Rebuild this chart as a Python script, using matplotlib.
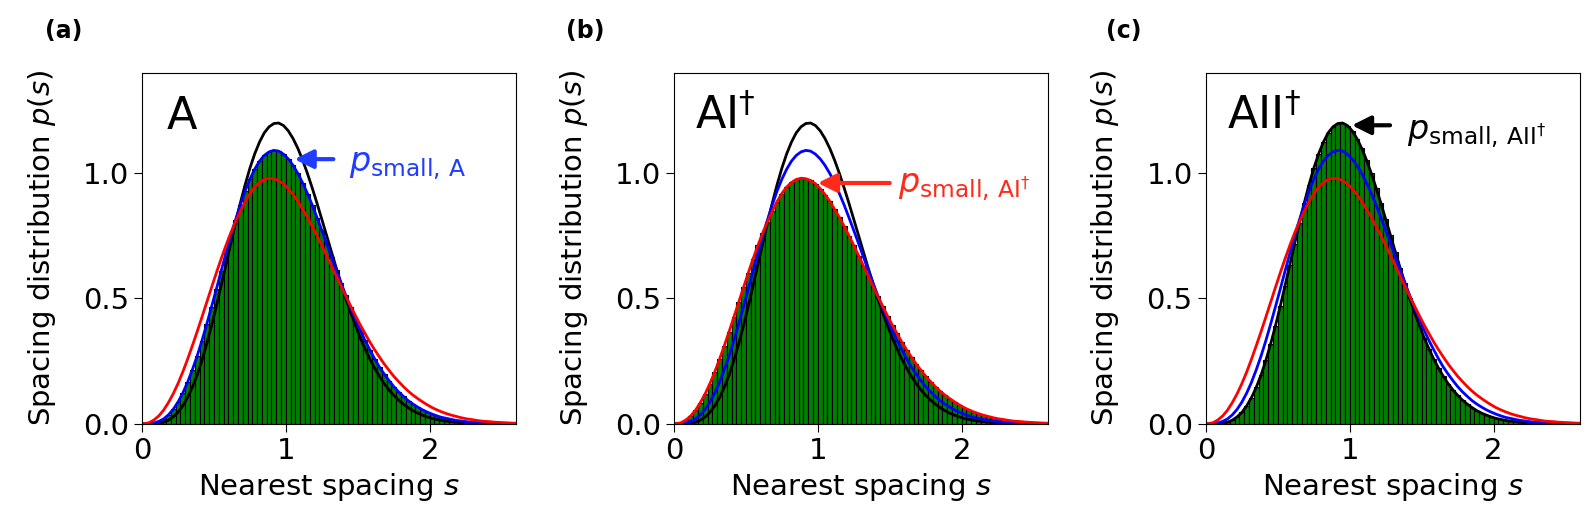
import numpy as np
import matplotlib.pyplot as plt

# nearest-spacing histograms, bin width 1/30, values at bin centres
bin_width = 1 / 30

# class A (blue), small-matrix result
p_A = [0.000, 0.001, 0.004, 0.010, 0.020, 0.036, 0.058, 0.087, 0.123,
       0.166, 0.216, 0.271, 0.332, 0.398, 0.467, 0.537, 0.609, 0.680,
       0.748, 0.813, 0.873, 0.928, 0.975, 1.015, 1.047, 1.070, 1.084,
       1.090, 1.087, 1.075, 1.056, 1.030, 0.998, 0.960, 0.918, 0.872,
       0.822, 0.771, 0.719, 0.666, 0.614, 0.562, 0.512, 0.464, 0.418,
       0.374, 0.333, 0.296, 0.260, 0.227, 0.199, 0.173, 0.149, 0.128,
       0.110, 0.093, 0.079, 0.067, 0.056, 0.047, 0.039, 0.032, 0.026,
       0.022, 0.018, 0.014, 0.012, 0.009, 0.007, 0.006, 0.005, 0.004,
       0.003, 0.002, 0.002, 0.001, 0.001, 0.001, 0.001]

# class AI-dagger (red)
p_AI = [0.001, 0.005, 0.016, 0.032, 0.055, 0.085, 0.120, 0.161, 0.207,
        0.258, 0.312, 0.368, 0.426, 0.485, 0.544, 0.602, 0.658, 0.711,
        0.761, 0.806, 0.847, 0.886, 0.918, 0.944, 0.962, 0.974, 0.979,
        0.977, 0.970, 0.957, 0.938, 0.914, 0.887, 0.855, 0.823, 0.787,
        0.750, 0.711, 0.671, 0.630, 0.590, 0.549, 0.509, 0.470, 0.432,
        0.395, 0.361, 0.327, 0.296, 0.267, 0.239, 0.214, 0.190, 0.169,
        0.149, 0.131, 0.115, 0.101, 0.088, 0.076, 0.065, 0.056, 0.048,
        0.041, 0.035, 0.030, 0.025, 0.021, 0.018, 0.015, 0.012, 0.010,
        0.009, 0.007, 0.006, 0.005, 0.004, 0.003, 0.003]

# class AII-dagger (black)
p_AII = [0.000, 0.000, 0.001, 0.003, 0.007, 0.015, 0.028, 0.046, 0.072,
         0.105, 0.146, 0.195, 0.253, 0.319, 0.391, 0.469, 0.551, 0.634,
         0.718, 0.801, 0.880, 0.953, 1.019, 1.076, 1.123, 1.160, 1.184,
         1.197, 1.199, 1.189, 1.168, 1.137, 1.098, 1.051, 0.998, 0.940,
         0.879, 0.815, 0.751, 0.686, 0.622, 0.561, 0.501, 0.445, 0.393,
         0.344, 0.300, 0.259, 0.223, 0.190, 0.161, 0.136, 0.114, 0.095,
         0.079, 0.065, 0.053, 0.043, 0.035, 0.028, 0.022, 0.018, 0.014,
         0.011, 0.009, 0.007, 0.005, 0.004, 0.003, 0.002, 0.002, 0.001,
         0.001, 0.001, 0.001, 0.000, 0.000, 0.000, 0.000]

s = (np.arange(len(p_A)) + 0.5) * bin_width

panel_names = [r'A', r'AI$^{\dagger}$', r'AII$^{\dagger}$']
panel_tags = ['(a)', '(b)', '(c)']
hists = [p_A, p_AI, p_AII]
ann_text = [r'$p_{\mathrm{small,\,A}}$', r'$p_{\mathrm{small,\,AI^{\dagger}}}$',
            r'$p_{\mathrm{small,\,AII^{\dagger}}}$']
ann_color = ['#1f3cff', '#ff2a1a', 'black']
ann_tip = [(1.06, 1.055), (1.0, 0.96), (1.015, 1.19)]
ann_pos = [(1.44, 1.005), (1.56, 0.923), (1.40, 1.136)]
ann_tail = [1.33, 1.50, 1.28]

fig = plt.figure(figsize=(15.96, 5.24), dpi=100)
lefts = [0.0890, 0.4223, 0.7556]
tag_x = [45, 566, 1106]

for i in range(3):
    ax = fig.add_axes([lefts[i], 0.191, 0.2343, 0.6705])
    ax.bar(s, hists[i], width=bin_width, color='green', edgecolor='black',
           linewidth=0.8)
    sc = np.concatenate([[0], s])
    ax.plot(sc, np.concatenate([[0], p_AII]), color='black', lw=2)
    ax.plot(sc, np.concatenate([[0], p_A]), color='blue', lw=2)
    ax.plot(sc, np.concatenate([[0], p_AI]), color='red', lw=2)
    ax.set_xlim(0, 2.6)
    ax.set_ylim(0, 1.4)
    ax.set_xticks([0, 1, 2])
    ax.set_yticks([0, 0.5, 1.0])
    ax.set_yticklabels(['0.0', '0.5', '1.0'])
    ax.tick_params(labelsize=21, length=6)
    ax.set_xlabel(r'Nearest spacing $s$', fontsize=21)
    ax.set_ylabel(r'Spacing distribution $p(s)$', fontsize=21, labelpad=18)
    ax.text(0.055 if i else 0.065, 0.84, panel_names[i], transform=ax.transAxes,
            fontsize=32, va='baseline')
    ax.annotate('', xy=ann_tip[i], xytext=(ann_tail[i], ann_tip[i][1]),
                arrowprops=dict(arrowstyle='-|>', color=ann_color[i], lw=3,
                                mutation_scale=28, shrinkA=0, shrinkB=0))
    ax.text(ann_pos[i][0], ann_pos[i][1], ann_text[i], color=ann_color[i],
            fontsize=24, va='baseline')
    fig.text(tag_x[i] / 1596, 1 - 31 / 524, panel_tags[i], fontsize=17,
             fontweight='bold', va='center')

fig.savefig('out.png', dpi=100)
